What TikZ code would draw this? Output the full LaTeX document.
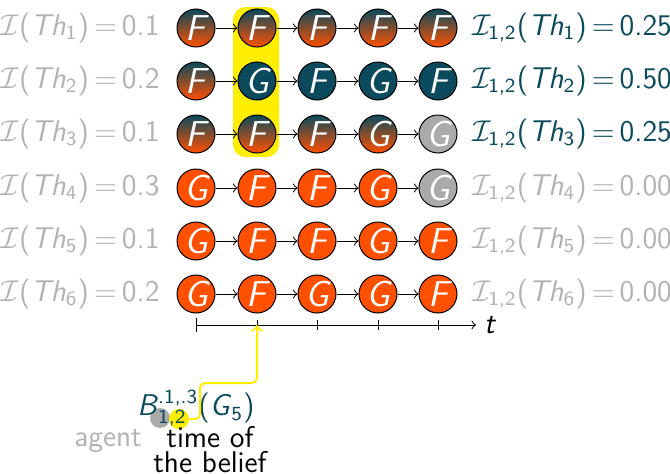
\documentclass[tikz,border=0pt]{standalone}
\usepackage{amsmath,amssymb}
\usepackage{tikz}
\usepackage{xcolor}
\definecolor{teal}{RGB}{10,74,92}
\definecolor{orng}{RGB}{255,80,0}
\definecolor{lgrey}{RGB}{170,170,170}
\definecolor{tgrey}{RGB}{178,178,178}
\definecolor{hl}{RGB}{255,238,0}
\tikzset{round/.style={circle, draw=black, minimum size=15.2pt, inner sep=0pt, text=white, font=\sffamily\Large\itshape}}
\tikzset{dark/.style={round, fill=teal}}
\tikzset{mixed/.style={round, top color=teal, bottom color=orng}}
\tikzset{light/.style={round, fill=orng}}
\tikzset{faded/.style={round, fill=lgrey}}
\tikzset{arrow/.style={->}}
\tikzset{lbl/.style={font=\sffamily\large}}
% interpretation labels in sans serif
\newcommand{\interp}[2]{$\mathcal{I}$(\textit{Th}$_{\textup{#1}}$)$\,=\,$#2}
\newcommand{\interpa}[2]{$\mathcal{I}_{\textup{1,2}}$(\textit{Th}$_{\textup{#1}}$)$\,=\,$#2}

\begin{document}
\begin{tikzpicture}[x=0.4pt, y=-0.4pt]
  \useasboundingbox (0,0) rectangle (670,473);

  % highlighted time step
  \fill[hl, rounded corners=5pt] (233,7) rectangle (279,157);

  % Th_1
  \node[mixed] (1a) at (196, 28) {F};
  \node[mixed] (1b) at (257, 28) {F};
  \node[mixed] (1c) at (317, 28) {F};
  \node[mixed] (1d) at (378, 28) {F};
  \node[mixed] (1e) at (438, 28) {F};
  % Th_2
  \node[mixed] (2a) at (196, 81) {F};
  \node[dark] (2b) at (257, 81) {G};
  \node[dark] (2c) at (317, 81) {F};
  \node[dark] (2d) at (378, 81) {G};
  \node[dark] (2e) at (438, 81) {F};
  % Th_3
  \node[mixed] (3a) at (196, 134) {F};
  \node[mixed] (3b) at (257, 134) {F};
  \node[mixed] (3c) at (317, 134) {F};
  \node[mixed] (3d) at (378, 134) {G};
  \node[faded] (3e) at (438, 134) {G};
  % Th_4
  \node[light] (4a) at (196, 188) {G};
  \node[light] (4b) at (257, 188) {F};
  \node[light] (4c) at (317, 188) {F};
  \node[light] (4d) at (378, 188) {G};
  \node[faded] (4e) at (438, 188) {G};
  % Th_5
  \node[light] (5a) at (196, 241) {G};
  \node[light] (5b) at (257, 241) {F};
  \node[light] (5c) at (317, 241) {F};
  \node[light] (5d) at (378, 241) {G};
  \node[light] (5e) at (438, 241) {F};
  % Th_6
  \node[light] (6a) at (196, 294) {G};
  \node[light] (6b) at (257, 294) {F};
  \node[light] (6c) at (317, 294) {G};
  \node[light] (6d) at (378, 294) {G};
  \node[light] (6e) at (438, 294) {F};

  \draw[arrow] (1a) -- (1b);
  \draw[arrow] (1b) -- (1c);
  \draw[arrow] (1c) -- (1d);
  \draw[arrow] (1d) -- (1e);
  \draw[arrow] (2a) -- (2b);
  \draw[arrow] (2b) -- (2c);
  \draw[arrow] (2c) -- (2d);
  \draw[arrow] (2d) -- (2e);
  \draw[arrow] (3a) -- (3b);
  \draw[arrow] (3b) -- (3c);
  \draw[arrow] (3c) -- (3d);
  \draw[arrow] (3d) -- (3e);
  \draw[arrow] (4a) -- (4b);
  \draw[arrow] (4b) -- (4c);
  \draw[arrow] (4c) -- (4d);
  \draw[arrow] (4d) -- (4e);
  \draw[arrow] (5a) -- (5b);
  \draw[arrow] (5b) -- (5c);
  \draw[arrow] (5c) -- (5d);
  \draw[arrow] (5d) -- (5e);
  \draw[arrow] (6a) -- (6b);
  \draw[arrow] (6b) -- (6c);
  \draw[arrow] (6c) -- (6d);
  \draw[arrow] (6d) -- (6e);

  % interpretations
  \node[lbl, text=tgrey] (i1) at (80, 28) {\interp{1}{0.1}};
  \node[lbl, text=tgrey] (i2) at (80, 81) {\interp{2}{0.2}};
  \node[lbl, text=tgrey] (i3) at (80, 134) {\interp{3}{0.1}};
  \node[lbl, text=tgrey] (i4) at (80, 188) {\interp{4}{0.3}};
  \node[lbl, text=tgrey] (i5) at (80, 241) {\interp{5}{0.1}};
  \node[lbl, text=tgrey] (i6) at (80, 294) {\interp{6}{0.2}};

  \node[lbl, text=teal] (j1) at (572, 28) {\interpa{1}{0.25}};
  \node[lbl, text=teal] (j2) at (572, 81) {\interpa{2}{0.50}};
  \node[lbl, text=teal] (j3) at (572, 134) {\interpa{3}{0.25}};
  \node[lbl, text=tgrey] (j4) at (572, 188) {\interpa{4}{0.00}};
  \node[lbl, text=tgrey] (j5) at (572, 241) {\interpa{5}{0.00}};
  \node[lbl, text=tgrey] (j6) at (572, 294) {\interpa{6}{0.00}};

  % time axis
  \coordinate (ta) at (196, 325);
  \coordinate (tb) at (257, 325);
  \coordinate (tc) at (317, 325);
  \coordinate (td) at (378, 325);
  \coordinate (te) at (438, 325);
  \draw[|->] (ta) -- (476, 325) node[lbl, right, inner sep=3pt] (t) {\textit{t}};
  \draw (tb) ++(0,-5) -- ++(0,10);
  \draw (tc) ++(0,-5) -- ++(0,10);
  \draw (td) ++(0,-5) -- ++(0,10);
  \draw (te) ++(0,-5) -- ++(0,10);

  % belief notation
  \node[circle, fill=lgrey, minimum size=8pt, inner sep=0pt] (ag) at (160, 418) {};
  \node[circle, fill=hl, minimum size=8pt, inner sep=0pt] (yc) at (179, 419) {};
  \node[lbl, text=teal] (B) at (196, 408) {\textit{B}$_{\textup{1,2}}^{\textup{.1,.3}}$(\textit{G}$_{\textup{5}}$)};
  \draw[hl, thick, ->, rounded corners=2pt] (yc.east) -| (200, 383) -| (tb);
  \node[lbl, text=tgrey] (agent) at (108, 441) {agent};
  \node[lbl, align=center, inner sep=0pt] (time) at (210, 450) {time of\\[-4pt]the belief};
\end{tikzpicture}
\end{document}
